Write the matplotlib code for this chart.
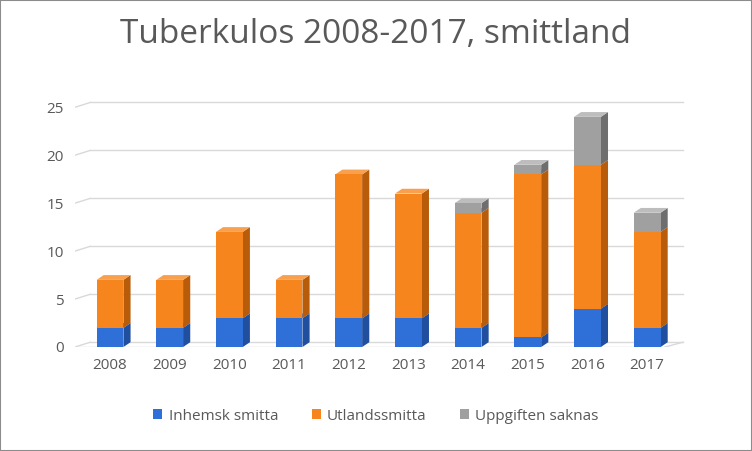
import matplotlib
matplotlib.use("Agg")
import matplotlib.pyplot as plt
from matplotlib.patches import Polygon, Rectangle

years = ["2008", "2009", "2010", "2011", "2012", "2013", "2014", "2015", "2016", "2017"]
inhemsk = [2, 2, 3, 3, 3, 3, 2, 1, 4, 2]
utlands = [5, 5, 9, 4, 15, 13, 12, 17, 15, 10]
saknas = [0, 0, 0, 0, 0, 0, 1, 1, 5, 2]

series = [
    ("Inhemsk smitta", inhemsk, "#2f6fd8", "#1f4f9e", "#5a8fe6"),
    ("Utlandssmitta", utlands, "#f7851e", "#b85c0a", "#f9a04e"),
    ("Uppgiften saknas", saknas, "#a0a0a0", "#6e6e6e", "#bdbdbd"),
]

fig = plt.figure(figsize=(7.52, 4.51), dpi=100)
fig.patches.append(Rectangle((0, 0), 1, 1, transform=fig.transFigure,
                             fill=False, edgecolor="#8c8c8c", linewidth=1.5))
ax = fig.add_axes([75 / 752, 1 - 347 / 451, 630 / 752, 257 / 451])
ax.set_xlim(-0.586, 9.97)
ax.set_ylim(0, 26.8)
for s in ax.spines.values():
    s.set_visible(False)

w = 0.45
dx, dy = 0.12, 0.5

# 3D-like grid: back wall lines plus short diagonal on the left
for v in range(0, 26, 5):
    ax.plot([-0.33, 9.6], [v + dy, v + dy], color="#d9d9d9", lw=1, zorder=0)
    ax.plot([-0.586, -0.33], [v, v + dy], color="#d9d9d9", lw=1, zorder=0)
ax.plot([-0.586, 9.3], [0, 0], color="#d9d9d9", lw=1, zorder=0)
ax.plot([9.3, 9.6], [0, dy], color="#d9d9d9", lw=1, zorder=0)

handles = []
bottoms = [0] * len(years)
for name, vals, front, side, top in series:
    for i, v in enumerate(vals):
        if v == 0:
            continue
        b = bottoms[i]
        x0 = i - w / 2
        x1 = i + w / 2
        ax.add_patch(Polygon([(x1, b), (x1 + dx, b + dy), (x1 + dx, b + v + dy), (x1, b + v)],
                             closed=True, facecolor=side, edgecolor="none", zorder=2))
        ax.add_patch(Polygon([(x0, b + v), (x0 + dx, b + v + dy), (x1 + dx, b + v + dy), (x1, b + v)],
                             closed=True, facecolor=top, edgecolor="none", zorder=2))
    h = ax.bar(range(len(years)), vals, width=w, bottom=bottoms, color=front,
               edgecolor="none", zorder=3, label=name)
    handles.append(h)
    bottoms = [b + v for b, v in zip(bottoms, vals)]

ax.set_xticks(range(len(years)))
ax.set_xticklabels(years)
ax.set_yticks(range(0, 26, 5))
ax.tick_params(length=0, colors="#595959", labelsize=11, pad=8)
for lab in ax.get_xticklabels():
    lab.set_fontfamily("Open Sans")
for lab in ax.get_yticklabels():
    lab.set_fontfamily("Open Sans")

fig.suptitle("Tuberkulos 2008-2017, smittland", y=0.96, fontsize=24,
             color="#595959", fontfamily="Open Sans")
fig.legend(handles=handles, loc="lower center", bbox_to_anchor=(0.5, 0.03), ncol=3,
           frameon=False, handlelength=0.6, handleheight=0.6,
           handletextpad=0.4, columnspacing=2.2, labelcolor="#595959",
           prop={"family": "Open Sans", "size": 11})

fig.savefig("out.png", dpi=100)
